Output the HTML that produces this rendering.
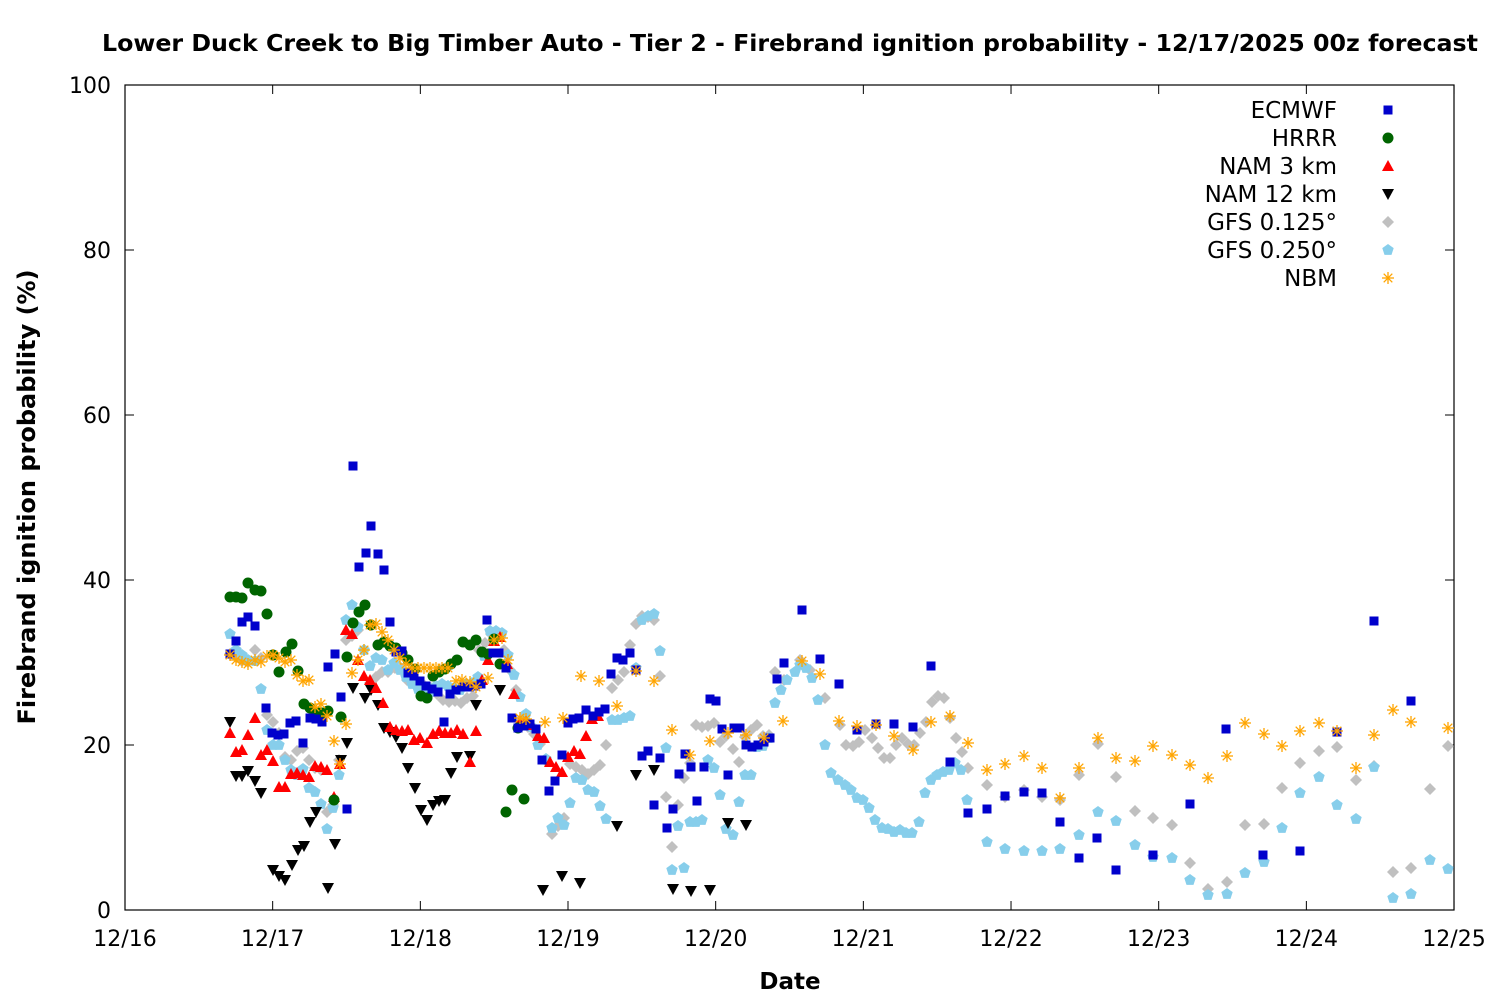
<!DOCTYPE html>
<html><head><meta charset="utf-8"><style>
html,body{margin:0;padding:0;background:#fff;}
svg{display:block;font-family:"DejaVu Sans","Liberation Sans",sans-serif;}
</style></head><body>
<svg id="s" width="1500" height="1000" xmlns="http://www.w3.org/2000/svg">
<text x="790" y="51" text-anchor="middle" font-size="23" font-weight="bold" textLength="1376" lengthAdjust="spacingAndGlyphs">Lower Duck Creek to Big Timber Auto - Tier 2 - Firebrand ignition probability - 12/17/2025 00z forecast</text>
<rect x="125" y="85" width="1329" height="825" fill="none" stroke="#000" stroke-width="1.2"/>
<g id="ax" font-size="22"></g>
<text x="790" y="989" text-anchor="middle" font-size="23" font-weight="bold">Date</text>
<text transform="translate(35,497) rotate(-90)" text-anchor="middle" font-size="24" font-weight="bold">Firebrand ignition probability (%)</text>
<g id="pts"></g>
<g font-size="23" text-anchor="end">
<text x="1337" y="118">ECMWF</text>
<text x="1337" y="146">HRRR</text>
<text x="1337" y="174">NAM 3 km</text>
<text x="1337" y="202">NAM 12 km</text>
<text x="1337" y="230">GFS 0.125°</text>
<text x="1337" y="258">GFS 0.250°</text>
<text x="1337" y="286">NBM</text>
</g>
</svg>
<script>
const NS="http://www.w3.org/2000/svg";
const ax=document.getElementById('ax');
function el(t,a,p){const e=document.createElementNS(NS,t);for(const k in a)e.setAttribute(k,a[k]);(p||ax).appendChild(e);return e;}
for(let i=0;i<=5;i++){const y=910-i*165;
 el('line',{x1:125,x2:134,y1:y,y2:y,stroke:'#000'});el('line',{x1:1454,x2:1445,y1:y,y2:y,stroke:'#000'});
 const t=el('text',{x:111,y:y+8,'text-anchor':'end'});t.textContent=i*20;}
const dl=['12/16','12/17','12/18','12/19','12/20','12/21','12/22','12/23','12/24','12/25'];
for(let i=0;i<=9;i++){const x=125+i*147.67;
 el('line',{x1:x,x2:x,y1:910,y2:901,stroke:'#000'});el('line',{x1:x,x2:x,y1:85,y2:94,stroke:'#000'});
 const t=el('text',{x:x,y:946,'text-anchor':'middle'});t.textContent=dl[i];}
const P=document.getElementById('pts');
function mk(type,x,y){
 if(type=='sq')el('rect',{x:x-4.5,y:y-4.5,width:9,height:9,fill:'#0000cc'},P);
 else if(type=='ci')el('circle',{cx:x,cy:y,r:5.5,fill:'#006400'},P);
 else if(type=='up')el('polygon',{points:`${x},${y-6} ${x+6},${y+5} ${x-6},${y+5}`,fill:'#ff0000'},P);
 else if(type=='dn')el('polygon',{points:`${x-6},${y-5} ${x+6},${y-5} ${x},${y+6}`,fill:'#000'},P);
 else if(type=='di')el('polygon',{points:`${x},${y-6} ${x+6},${y} ${x},${y+6} ${x-6},${y}`,fill:'#c0c0c0'},P);
 else if(type=='pe'){let p=[];for(let k=0;k<5;k++){const a=-Math.PI/2+k*2*Math.PI/5;p.push((x+6*Math.cos(a)).toFixed(1)+','+(y+6*Math.sin(a)).toFixed(1));}el('polygon',{points:p.join(' '),fill:'#87ceeb'},P);}
 else if(type=='st'){const g=el('g',{stroke:'#ffa500','stroke-width':1.3},P);
  [[6,0],[0,6],[4.3,4.3],[4.3,-4.3]].forEach(d=>el('line',{x1:x-d[0],y1:y-d[1],x2:x+d[0],y2:y+d[1]},g));}
}
function plot(type,s){const a=s.split(';');a.forEach(p=>{const v=p.split(',').map(Number);if(v.length==2&&!isNaN(v[0]))mk(type,v[0],v[1]);});}
plot('di',"230,654;236,657;242,661;248,662;255,650;261,658;267,715;273,722;279,733;285,757;291,760;297,751;303,748;309,760;315,768;321,770;327,812;333,805;339,760;346,640;352,636;358,630;364,650;370,683;376,677;382,672;388,672;395,668;401,668;407,680;413,683;419,685;425,686;431,688;437,694;443,700;449,702;455,701;461,703;467,698;473,696;479,650;485,643;491,634;498,634;504,650;510,670;516,690;522,718;528,727;534,734;540,744;546,761;552,834;558,826;564,818;570,764;576,767;582,770;588,774;594,770;600,765;606,745;612,688;618,680;624,672;630,645;636,624;642,616;648,617;654,620;660,676;666,797;672,847;678,805;684,778;690,763;696,725;702,727;708,726;714,723;720,742;726,736;733,749;739,762;745,737;751,730;757,725;763,736;769,735;775,672;784,680;800,660;810,670;825,698;840,725;846,745;853,746;859,742;865,730;872,738;878,748;884,758;890,758;896,745;902,738;908,744;914,745;920,733;926,722;932,702;938,696;944,698;950,718;956,738;962,752;968,768;987,785;1005,797;1024,790;1042,797;1060,800;1079,775;1098,744;1116,777;1135,811;1153,818;1172,825;1190,863;1208,889;1227,882;1245,825;1264,824;1282,788;1300,763;1319,751;1337,747;1356,780;1374,766;1393,872;1411,868;1430,789;1448,746");
plot('pe',"230,634;236,650;242,655;248,660;255,661;261,689;267,730;273,745;279,745;285,760;291,770;297,775;303,769;309,788;315,792;321,804;327,829;333,808;339,775;346,620;352,605;358,627;364,650;370,666;376,658;382,660;388,670;394,663;400,670;406,677;412,684;418,689;424,690;430,692;436,686;442,684;448,686;454,688;460,690;466,684;472,683;478,677;484,656;490,631;496,631;502,633;508,655;514,675;520,697;526,714;532,727;538,745;546,759;552,828;558,818;564,825;570,803;576,778;582,780;588,790;594,792;600,806;606,819;612,720;618,720;624,718;630,716;636,668;642,620;648,616;654,614;660,651;666,748;672,870;678,826;684,868;690,822;696,822;702,820;708,760;714,768;720,795;726,829;733,835;739,802;745,775;751,775;757,747;763,746;769,738;775,703;781,690;787,680;795,672;800,665;806,668;812,678;818,700;825,745;831,773;838,780;845,785;851,790;857,798;863,800;869,808;875,820;882,828;888,829;894,832;900,830;906,833;912,833;919,822;925,793;931,780;937,775;943,772;949,770;955,763;961,770;967,800;987,842;1005,849;1024,851;1042,851;1060,849;1079,835;1098,812;1116,821;1135,845;1153,857;1172,858;1190,880;1208,895;1227,894;1245,873;1264,862;1282,828;1300,793;1319,777;1337,805;1356,819;1374,767;1393,898;1411,894;1430,860;1448,869");
plot('dn',"230,722;236,776;242,776;248,771;255,781;261,793;273,870;279,876;285,880;292,865;298,850;304,846;310,822;316,812;328,888;335,844;341,760;347,743;353,688;365,698;371,690;378,705;384,728;390,732;396,737;402,748;408,768;415,788;421,810;427,820;433,805;439,801;445,800;451,773;457,757;470,756;476,705;500,690;543,890;562,876;580,883;617,826;636,775;654,770;673,889;691,891;710,890;728,823;746,825");
plot('up',"230,733;236,752;242,750;248,735;255,718;261,755;267,750;273,761;279,787;285,787;291,774;297,773;303,775;309,777;315,766;321,767;327,770;334,797;340,764;346,630;352,634;358,660;364,676;370,680;376,688;383,703;390,727;396,730;402,731;408,730;414,740;420,738;427,743;433,734;439,731;445,733;451,733;457,730;463,734;470,762;476,731;482,680;488,660;494,641;500,637;507,664;514,694;520,721;526,721;532,725;538,736;544,738;550,762;556,767;562,772;568,757;574,751;580,754;586,736;592,719;598,716");
plot('ci',"230,597;236,597;242,598;248,583;255,590;261,591;267,614;273,655;279,672;286,652;292,644;298,671;304,704;310,708;316,712;322,713;328,711;334,800;341,717;347,657;353,623;359,612;365,605;371,625;378,645;384,642;390,646;396,648;402,653;408,660;415,669;421,696;427,698;433,676;439,672;445,669;451,664;457,660;463,642;470,645;476,640;482,652;488,654;494,639;500,664;506,812;512,790;518,728;524,799");
plot('sq',"230,654;236,641;242,622;248,617;255,626;266,708;272,733;278,735;284,734;290,723;296,721;303,743;310,718;316,719;322,722;328,667;335,654;341,697;347,809;353,466;359,567;366,553;371,526;378,554;384,570;390,622;396,652;402,651;408,673;414,676;420,681;426,686;432,689;438,692;444,722;450,694;456,690;463,687;469,687;475,686;481,684;487,620;493,653;499,653;506,668;512,718;518,728;524,726;530,724;536,729;542,760;549,791;555,781;562,755;568,723;573,719;579,718;586,710;593,716;599,712;605,709;611,674;617,658;623,660;630,653;636,670;642,756;648,751;654,805;660,758;667,828;673,809;679,774;685,754;691,767;697,801;704,767;710,699;716,701;722,729;728,775;734,728;740,728;746,745;752,747;758,745;764,742;770,738;777,679;784,663;802,610;820,659;839,684;857,730;876,724;894,724;913,727;931,666;950,762;968,813;987,809;1005,796;1024,792;1042,793;1060,822;1079,858;1097,838;1116,870;1153,855;1190,804;1226,729;1263,855;1300,851;1337,732;1374,621;1411,701");
plot('st',"230,655;236,660;242,662;248,664;255,660;261,662;267,656;273,655;279,658;285,662;291,660;297,675;303,681;309,680;315,707;321,704;327,716;334,741;340,764;346,724;352,673;358,660;364,650;370,625;376,624;382,632;388,640;394,650;400,658;406,664;412,668;418,668;424,668;430,668;436,668;442,668;448,668;456,681;462,680;470,682;476,687;488,678;494,640;502,638;508,660;520,718;526,719;545,722;563,718;581,676;599,681;617,706;636,671;654,681;672,730;690,755;710,741;728,733;746,735;764,738;783,721;802,661;820,674;839,721;857,726;876,725;894,736;913,750;931,722;950,716;968,743;987,770;1005,764;1024,756;1042,768;1060,798;1079,768;1098,738;1116,758;1135,761;1153,746;1172,755;1190,765;1208,778;1227,756;1245,723;1264,734;1282,746;1300,731;1319,723;1337,731;1356,768;1374,735;1393,710;1411,722;1448,728");
mk('sq',1388,110);mk('ci',1388,138);mk('up',1388,166);mk('dn',1388,194);mk('di',1388,222);mk('pe',1388,250);mk('st',1388,278);
</script>
</body></html>
